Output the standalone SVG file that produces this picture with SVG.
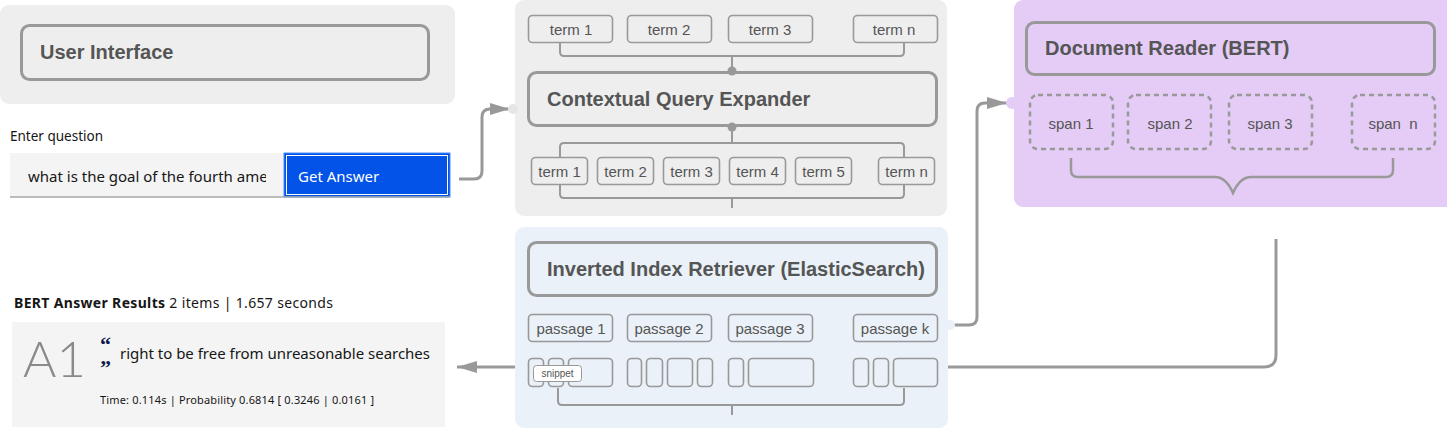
<svg xmlns="http://www.w3.org/2000/svg" width="1447" height="434" viewBox="0 0 1447 434">
<style>
.panel{stroke:none}
.big{fill:none;stroke:#999;stroke-width:3}
.box{fill:none;stroke:#999;stroke-width:1.6}
.span{fill:none;stroke:#999;stroke-width:2.5;stroke-dasharray:5 4}
.br{fill:none;stroke:#999;stroke-width:2}
.conn{fill:none;stroke:#999;stroke-width:3}
.lbl{font-family:"Liberation Sans",Arial,sans-serif;font-weight:bold;font-size:20px;fill:#555}
.t{font-family:"Liberation Sans",Arial,sans-serif;font-size:15px;fill:#555;text-anchor:middle}
.ui{font-family:"Noto Sans","Liberation Sans",sans-serif;fill:#161616}
.q{font-family:"Liberation Serif",serif;font-weight:bold;font-size:22px;fill:#0f1b4c}
</style>
<defs>
<marker id="ah" markerUnits="userSpaceOnUse" markerWidth="20" markerHeight="12" refX="20" refY="6" orient="auto">
<path d="M0,0 L20,6 L0,12 z" fill="#999"/>
</marker>
<clipPath id="inclip"><rect x="10" y="153" width="256" height="44"/></clipPath>
</defs>

<g id="connectors">
<path class="conn" d="M459,179 H474 Q482,179 482,171 V117 Q482,109 490,109 H510" marker-end="url(#ah)"/>
<path class="conn" d="M953,325 H969 Q977,325 977,317 V111 Q977,103 985,103 H1007" marker-end="url(#ah)"/>
<path class="conn" d="M1276,239 V355 Q1276,367 1264,367 H457" marker-end="url(#ah)"/>
</g>

<g id="user-interface">
<rect class="panel" x="0" y="5" width="455" height="99" rx="9" fill="#eeeeee"/>
<rect class="big" x="21.5" y="25.5" width="407" height="54" rx="8"/>
<text class="lbl" x="40" y="59">User Interface</text>
<text class="ui" x="10" y="141" font-size="13.5">Enter question</text>
<rect x="10" y="153" width="274" height="44" fill="#f4f4f4"/>
<text class="ui" x="28" y="182" font-size="15" clip-path="url(#inclip)">what is the goal of the fourth ame</text>
<rect x="284" y="153" width="166" height="44" fill="#0353e9" stroke="#4f8ef7" stroke-width="1"/>
<rect x="286.5" y="155.5" width="161" height="39" fill="none" stroke="#ffffff" stroke-width="1"/>
<text class="ui" x="298" y="182" font-size="15" style="fill:#fff">Get Answer</text>
<line x1="10" y1="197" x2="450" y2="197" stroke="#a8a8a8" stroke-width="1.5"/>
</g>

<g id="query-expander">
<rect class="panel" x="515" y="0" width="432" height="216" rx="9" fill="#eeeeee"/>
<circle cx="513" cy="109" r="5" fill="#e6e6e6"/>
<rect class="box" x="528.5" y="15.5" width="84" height="27" rx="4"/>
<rect class="box" x="627.5" y="15.5" width="84" height="27" rx="4"/>
<rect class="box" x="728.5" y="15.5" width="84" height="27" rx="4"/>
<rect class="box" x="853.5" y="15.5" width="84" height="27" rx="4"/>
<text class="t" x="571" y="35">term 1</text>
<text class="t" x="669" y="35">term 2</text>
<text class="t" x="770" y="35">term 3</text>
<text class="t" x="894" y="35">term n</text>
<path class="br" d="M560,43 V52 Q560,56 564,56 H900 Q904,56 904,52 V43 M732,56 V70"/>
<circle cx="732" cy="71" r="4.5" fill="#999"/>
<rect class="big" x="528.5" y="72.5" width="408" height="53" rx="8"/>
<text class="lbl" x="547" y="106">Contextual Query Expander</text>
<circle cx="732" cy="127" r="4.5" fill="#999"/>
<path class="br" d="M732,127 V143 M560,157 V147 Q560,143 564,143 H900 Q904,143 904,147 V157"/>
<rect class="box" x="531.5" y="157.5" width="56" height="27" rx="4"/>
<rect class="box" x="597.5" y="157.5" width="56" height="27" rx="4"/>
<rect class="box" x="663.5" y="157.5" width="56" height="27" rx="4"/>
<rect class="box" x="729.5" y="157.5" width="56" height="27" rx="4"/>
<rect class="box" x="795.5" y="157.5" width="56" height="27" rx="4"/>
<rect class="box" x="878.5" y="157.5" width="56" height="27" rx="4"/>
<text class="t" x="559.5" y="176.5">term 1</text>
<text class="t" x="625.5" y="176.5">term 2</text>
<text class="t" x="691.5" y="176.5">term 3</text>
<text class="t" x="757.5" y="176.5">term 4</text>
<text class="t" x="823.5" y="176.5">term 5</text>
<text class="t" x="906.5" y="176.5">term n</text>
<path class="br" d="M560,185 V194 Q560,198 564,198 H900 Q904,198 904,194 V185 M732,198 V208"/>
</g>

<g id="retriever">
<rect class="panel" x="515" y="227" width="433" height="201" rx="9" fill="#eaf1f8"/>
<circle cx="950" cy="325" r="5" fill="#eaf1f8"/>
<rect class="big" x="528.5" y="242.5" width="408" height="53" rx="8"/>
<text class="lbl" x="547" y="276">Inverted Index Retriever (ElasticSearch)</text>
<rect class="box" x="528.5" y="314.5" width="84" height="27" rx="4"/>
<rect class="box" x="627.5" y="314.5" width="84" height="27" rx="4"/>
<rect class="box" x="728.5" y="314.5" width="84" height="27" rx="4"/>
<rect class="box" x="853.5" y="314.5" width="84" height="27" rx="4"/>
<text class="t" x="571" y="333.5">passage 1</text>
<text class="t" x="669" y="333.5">passage 2</text>
<text class="t" x="770" y="333.5">passage 3</text>
<text class="t" x="895" y="333.5">passage k</text>
<rect class="box" x="528.5" y="358.5" width="15" height="28" rx="4"/>
<rect class="box" x="548.5" y="358.5" width="15" height="28" rx="4"/>
<rect class="box" x="568.5" y="358.5" width="44" height="28" rx="4"/>
<rect class="box" x="627.5" y="358.5" width="14" height="28" rx="4"/>
<rect class="box" x="646.5" y="358.5" width="16" height="28" rx="4"/>
<rect class="box" x="667.5" y="358.5" width="25" height="28" rx="4"/>
<rect class="box" x="697.5" y="358.5" width="15" height="28" rx="4"/>
<rect class="box" x="728.5" y="358.5" width="15" height="28" rx="4"/>
<rect class="box" x="748.5" y="358.5" width="65" height="28" rx="4"/>
<rect class="box" x="853.5" y="358.5" width="15" height="28" rx="4"/>
<rect class="box" x="873.5" y="358.5" width="15" height="28" rx="4"/>
<rect class="box" x="893.5" y="358.5" width="44" height="28" rx="4"/>
<rect x="533.5" y="365.5" width="48" height="16" rx="3" fill="#ffffff" stroke="#999" stroke-width="1"/>
<text x="557.5" y="377" font-family="Liberation Sans, Arial, sans-serif" font-size="10" fill="#555" text-anchor="middle">snippet</text>
<path class="br" d="M558,388 V401 Q558,405 562,405 H900 Q904,405 904,401 V388 M732,405 V415"/>
</g>

<g id="document-reader">
<rect class="panel" x="1014" y="0" width="443" height="207" rx="9" fill="#e4ccf6"/>
<circle cx="1012" cy="103" r="6" fill="#e4ccf6"/>
<rect class="big" x="1026.5" y="22.5" width="408" height="52" rx="8"/>
<text class="lbl" x="1045" y="55">Document Reader (BERT)</text>
<rect class="span" x="1030" y="95" width="83" height="54" rx="8"/>
<rect class="span" x="1128" y="95" width="83" height="54" rx="8"/>
<rect class="span" x="1229" y="95" width="83" height="54" rx="8"/>
<rect class="span" x="1352" y="95" width="83" height="54" rx="8"/>
<text class="t" x="1071" y="129">span 1</text>
<text class="t" x="1170" y="129">span 2</text>
<text class="t" x="1270" y="129">span 3</text>
<text class="t" x="1393" y="129" xml:space="preserve">span  n</text>
<path class="br" style="stroke-width:2.5" d="M1071,158 V170 Q1071,177 1078,177 H1215 Q1226,177 1233,193 Q1240,177 1251,177 H1386 Q1393,177 1393,170 V158"/>
</g>

<g id="answer-results">
<text class="ui" x="14" y="308" font-size="14" textLength="319"><tspan font-weight="bold">BERT Answer Results</tspan> 2 items | 1.657 seconds</text>
<rect x="12" y="322" width="433" height="105" fill="#f4f4f4"/>
<text x="23" y="377" font-family="Lato, 'Liberation Sans', sans-serif" font-weight="300" font-size="49" fill="#8a8a8a" textLength="63" lengthAdjust="spacingAndGlyphs">A1</text>
<text class="q" x="100" y="352">“</text>
<text class="q" x="100" y="375">”</text>
<text class="ui" x="120" y="359" font-size="15" textLength="310" fill="#222">right to be free from unreasonable searches</text>
<text class="ui" x="100" y="404" font-size="11" textLength="274" fill="#333">Time: 0.114s | Probability 0.6814 [ 0.3246 | 0.0161 ]</text>
</g>
</svg>
